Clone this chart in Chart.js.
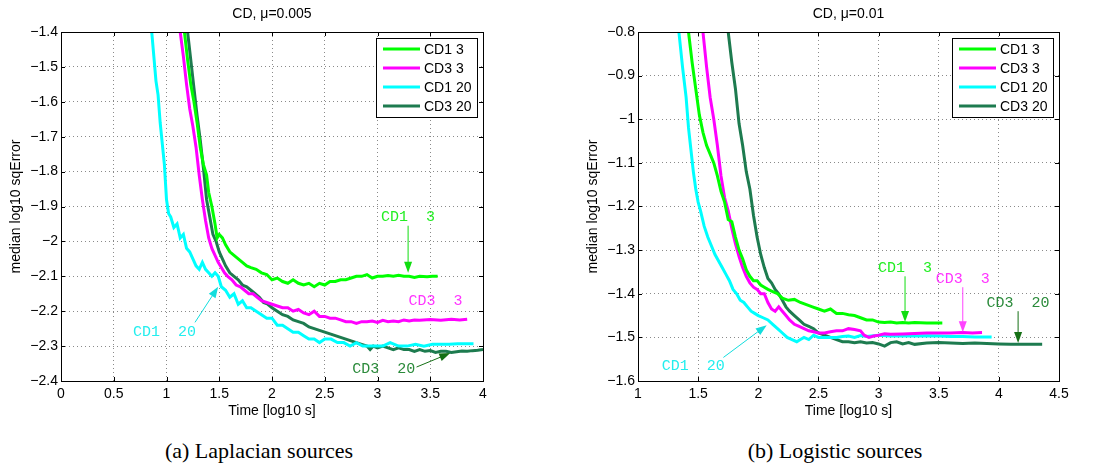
<!DOCTYPE html>
<html>
<head>
<meta charset="utf-8">
<script src="https://cdn.jsdelivr.net/npm/chart.js@4/dist/chart.umd.min.js"></script>
<style>
body{margin:0;background:#fff;}
#wrap{position:relative;width:1096px;height:468px;overflow:hidden;}
canvas{position:absolute;top:0;}
.cap{position:absolute;top:438px;font-family:"Liberation Serif","Times New Roman",serif;font-size:22px;color:#000;transform:translateX(-50%);white-space:nowrap;}
</style>
</head>
<body>
<div id="wrap">
  <canvas id="lap" width="548" height="420" style="left:0"></canvas>
  <canvas id="logi" width="548" height="420" style="left:548px"></canvas>
  <div class="cap" style="left:259px">(a) Laplacian sources</div>
  <div class="cap" style="left:835px">(b) Logistic sources</div>
</div>
<script>
// series names, legend order
const SERIES = ['CD1 3','CD3 3','CD1 20','CD3 20'];
const COLORS = ['#00ff00','#ff00ff','#00ffff','#1d7b4f'];

// (a) Laplacian sources, mu=0.005  [log10 s, median log10 sqError]
const lapCD1_3 = [[1.15,-1.30],[1.17,-1.40],[1.20,-1.48],[1.23,-1.55],[1.26,-1.60],[1.29,-1.66],[1.32,-1.73],[1.35,-1.78],[1.38,-1.81],[1.40,-1.86],[1.43,-1.90],[1.46,-1.95],[1.48,-1.99],[1.50,-1.98],[1.53,-1.99],[1.56,-2.01],[1.60,-2.03],[1.64,-2.04],[1.68,-2.05],[1.72,-2.06],[1.76,-2.07],[1.80,-2.075],[1.85,-2.08],[1.90,-2.09],[1.95,-2.095],[2.00,-2.11],[2.05,-2.105],[2.10,-2.115],[2.15,-2.12],[2.20,-2.11],[2.25,-2.12],[2.30,-2.125],[2.35,-2.12],[2.40,-2.13],[2.45,-2.12],[2.50,-2.125],[2.55,-2.115],[2.60,-2.115],[2.65,-2.11],[2.70,-2.11],[2.75,-2.105],[2.80,-2.10],[2.85,-2.10],[2.90,-2.095],[2.95,-2.105],[3.00,-2.10],[3.05,-2.10],[3.10,-2.098],[3.15,-2.10],[3.20,-2.097],[3.25,-2.10],[3.30,-2.10],[3.35,-2.103],[3.40,-2.10],[3.47,-2.101],[3.52,-2.10],[3.57,-2.10]];
const lapCD3_3 = [[1.10,-1.30],[1.13,-1.40],[1.16,-1.47],[1.19,-1.55],[1.22,-1.62],[1.25,-1.67],[1.28,-1.73],[1.31,-1.81],[1.34,-1.88],[1.37,-1.94],[1.40,-1.99],[1.43,-2.02],[1.46,-2.04],[1.49,-2.06],[1.52,-2.075],[1.55,-2.09],[1.58,-2.10],[1.62,-2.11],[1.66,-2.125],[1.70,-2.13],[1.74,-2.14],[1.78,-2.15],[1.82,-2.15],[1.86,-2.16],[1.90,-2.17],[1.95,-2.175],[2.00,-2.18],[2.05,-2.185],[2.10,-2.19],[2.15,-2.19],[2.20,-2.20],[2.25,-2.195],[2.30,-2.205],[2.35,-2.21],[2.40,-2.20],[2.45,-2.215],[2.50,-2.215],[2.55,-2.22],[2.60,-2.22],[2.65,-2.225],[2.70,-2.23],[2.75,-2.23],[2.80,-2.235],[2.85,-2.23],[2.90,-2.23],[2.95,-2.228],[3.00,-2.232],[3.05,-2.226],[3.10,-2.23],[3.15,-2.228],[3.20,-2.23],[3.25,-2.225],[3.30,-2.228],[3.35,-2.225],[3.40,-2.226],[3.50,-2.224],[3.60,-2.226],[3.70,-2.223],[3.78,-2.225],[3.85,-2.223]];
const lapCD1_20 = [[0.85,-1.30],[0.86,-1.40],[0.88,-1.47],[0.90,-1.54],[0.92,-1.58],[0.94,-1.66],[0.96,-1.72],[0.98,-1.78],[1.00,-1.88],[1.02,-1.92],[1.04,-1.93],[1.07,-1.96],[1.10,-1.95],[1.13,-1.99],[1.16,-1.98],[1.19,-2.02],[1.22,-2.03],[1.25,-2.05],[1.28,-2.07],[1.31,-2.08],[1.34,-2.06],[1.37,-2.08],[1.40,-2.09],[1.43,-2.10],[1.46,-2.09],[1.49,-2.10],[1.52,-2.13],[1.56,-2.14],[1.60,-2.16],[1.64,-2.15],[1.68,-2.18],[1.72,-2.17],[1.76,-2.19],[1.80,-2.19],[1.85,-2.20],[1.90,-2.21],[1.95,-2.22],[2.00,-2.22],[2.05,-2.24],[2.10,-2.24],[2.15,-2.25],[2.20,-2.26],[2.25,-2.26],[2.30,-2.27],[2.35,-2.28],[2.40,-2.28],[2.45,-2.29],[2.50,-2.28],[2.56,-2.28],[2.62,-2.29],[2.68,-2.29],[2.74,-2.30],[2.80,-2.29],[2.86,-2.30],[2.92,-2.30],[2.98,-2.30],[3.05,-2.30],[3.12,-2.29],[3.20,-2.30],[3.28,-2.30],[3.36,-2.295],[3.44,-2.30],[3.52,-2.295],[3.60,-2.295],[3.68,-2.295],[3.76,-2.293],[3.84,-2.293],[3.91,-2.293]];
const lapCD3_20 = [[1.18,-1.30],[1.20,-1.40],[1.23,-1.48],[1.26,-1.56],[1.29,-1.64],[1.32,-1.71],[1.35,-1.79],[1.38,-1.88],[1.41,-1.93],[1.44,-1.98],[1.47,-2.00],[1.50,-2.03],[1.53,-2.05],[1.56,-2.07],[1.60,-2.09],[1.64,-2.10],[1.68,-2.11],[1.72,-2.125],[1.76,-2.13],[1.80,-2.14],[1.84,-2.15],[1.88,-2.16],[1.92,-2.175],[1.96,-2.18],[2.00,-2.19],[2.05,-2.20],[2.10,-2.21],[2.15,-2.215],[2.20,-2.225],[2.25,-2.23],[2.30,-2.235],[2.35,-2.245],[2.40,-2.25],[2.45,-2.255],[2.50,-2.26],[2.55,-2.265],[2.60,-2.27],[2.65,-2.275],[2.70,-2.28],[2.75,-2.285],[2.80,-2.29],[2.85,-2.295],[2.90,-2.30],[2.93,-2.31],[2.96,-2.30],[3.00,-2.305],[3.05,-2.30],[3.10,-2.305],[3.15,-2.31],[3.20,-2.305],[3.25,-2.31],[3.30,-2.31],[3.35,-2.315],[3.40,-2.31],[3.45,-2.315],[3.50,-2.313],[3.55,-2.318],[3.60,-2.315],[3.65,-2.315],[3.70,-2.318],[3.75,-2.316],[3.80,-2.314],[3.85,-2.315],[3.90,-2.313],[3.95,-2.312],[4.00,-2.31]];

// (b) Logistic sources, mu=0.01
const logCD1_3 = [[1.40,-0.70],[1.42,-0.80],[1.45,-0.87],[1.48,-0.93],[1.51,-0.99],[1.54,-1.03],[1.57,-1.06],[1.60,-1.08],[1.63,-1.10],[1.66,-1.13],[1.69,-1.165],[1.72,-1.19],[1.75,-1.23],[1.78,-1.235],[1.81,-1.27],[1.84,-1.30],[1.87,-1.32],[1.90,-1.345],[1.93,-1.36],[1.96,-1.37],[1.99,-1.37],[2.02,-1.38],[2.05,-1.385],[2.08,-1.39],[2.12,-1.395],[2.16,-1.40],[2.20,-1.41],[2.25,-1.415],[2.30,-1.413],[2.35,-1.42],[2.40,-1.425],[2.45,-1.43],[2.50,-1.435],[2.55,-1.44],[2.60,-1.435],[2.65,-1.445],[2.70,-1.445],[2.75,-1.448],[2.80,-1.45],[2.85,-1.455],[2.90,-1.46],[2.95,-1.46],[3.00,-1.465],[3.05,-1.466],[3.10,-1.465],[3.15,-1.467],[3.20,-1.466],[3.25,-1.467],[3.30,-1.466],[3.40,-1.467],[3.53,-1.467]];
const logCD3_3 = [[1.52,-0.70],[1.54,-0.80],[1.57,-0.88],[1.60,-0.95],[1.63,-1.00],[1.66,-1.06],[1.69,-1.13],[1.72,-1.18],[1.75,-1.21],[1.78,-1.25],[1.81,-1.285],[1.84,-1.315],[1.87,-1.34],[1.90,-1.36],[1.93,-1.375],[1.96,-1.385],[1.99,-1.39],[2.02,-1.40],[2.05,-1.40],[2.08,-1.42],[2.11,-1.435],[2.14,-1.44],[2.17,-1.43],[2.20,-1.44],[2.23,-1.45],[2.26,-1.46],[2.30,-1.47],[2.34,-1.475],[2.38,-1.48],[2.42,-1.485],[2.46,-1.487],[2.50,-1.49],[2.55,-1.49],[2.60,-1.487],[2.65,-1.485],[2.70,-1.485],[2.75,-1.48],[2.80,-1.482],[2.85,-1.485],[2.88,-1.495],[2.92,-1.50],[2.96,-1.497],[3.00,-1.495],[3.05,-1.492],[3.10,-1.493],[3.20,-1.492],[3.30,-1.491],[3.40,-1.49],[3.50,-1.49],[3.60,-1.49],[3.70,-1.489],[3.78,-1.49],[3.86,-1.489]];
const logCD1_20 = [[1.32,-0.70],[1.34,-0.80],[1.37,-0.88],[1.40,-0.95],[1.42,-1.02],[1.44,-1.07],[1.46,-1.12],[1.48,-1.16],[1.50,-1.19],[1.52,-1.21],[1.55,-1.245],[1.58,-1.27],[1.61,-1.29],[1.64,-1.31],[1.67,-1.325],[1.70,-1.34],[1.73,-1.355],[1.76,-1.37],[1.79,-1.39],[1.82,-1.40],[1.85,-1.415],[1.88,-1.42],[1.91,-1.43],[1.94,-1.44],[1.97,-1.445],[2.00,-1.45],[2.04,-1.455],[2.08,-1.46],[2.12,-1.47],[2.16,-1.48],[2.20,-1.49],[2.24,-1.50],[2.28,-1.505],[2.32,-1.51],[2.35,-1.505],[2.38,-1.50],[2.42,-1.505],[2.46,-1.495],[2.50,-1.50],[2.55,-1.50],[2.60,-1.50],[2.65,-1.50],[2.70,-1.498],[2.75,-1.497],[2.80,-1.50],[2.85,-1.496],[2.90,-1.498],[3.00,-1.495],[3.10,-1.497],[3.20,-1.496],[3.30,-1.497],[3.40,-1.496],[3.50,-1.497],[3.60,-1.498],[3.70,-1.498],[3.80,-1.499],[3.94,-1.499]];
const logCD3_20 = [[1.73,-0.70],[1.75,-0.80],[1.78,-0.87],[1.81,-0.93],[1.84,-1.01],[1.87,-1.06],[1.90,-1.12],[1.93,-1.16],[1.96,-1.22],[1.99,-1.27],[2.02,-1.31],[2.05,-1.34],[2.08,-1.365],[2.11,-1.375],[2.14,-1.39],[2.17,-1.40],[2.20,-1.415],[2.23,-1.43],[2.26,-1.44],[2.30,-1.45],[2.34,-1.46],[2.38,-1.47],[2.42,-1.475],[2.46,-1.48],[2.50,-1.49],[2.55,-1.495],[2.60,-1.50],[2.65,-1.505],[2.70,-1.51],[2.75,-1.51],[2.80,-1.512],[2.85,-1.51],[2.90,-1.513],[2.95,-1.512],[3.00,-1.515],[3.05,-1.52],[3.10,-1.512],[3.15,-1.51],[3.20,-1.515],[3.25,-1.512],[3.30,-1.516],[3.40,-1.513],[3.50,-1.512],[3.60,-1.513],[3.70,-1.514],[3.80,-1.513],[3.90,-1.514],[4.00,-1.515],[4.10,-1.516],[4.20,-1.516],[4.36,-1.516]];

// arrow labels: text, series index, text pos, arrow from, arrow to (data coords)
const lapNotes = [
  {t:'CD1  3', c:0, tx:3.29, ty:-1.93, from:[3.29,-1.955], to:[3.29,-2.09]},
  {t:'CD3  3', c:1, tx:3.55, ty:-2.171},
  {t:'CD1  20', c:2, tx:0.98, ty:-2.259, from:[1.27,-2.232], to:[1.49,-2.13]},
  {t:'CD3  20', c:3, tx:3.06, ty:-2.365, from:[3.37,-2.36], to:[3.69,-2.32]},
];
const logNotes = [
  {t:'CD1  3', c:0, tx:3.22, ty:-1.342, from:[3.22,-1.36], to:[3.22,-1.465]},
  {t:'CD3  3', c:1, tx:3.70, ty:-1.367, from:[3.70,-1.385], to:[3.70,-1.488]},
  {t:'CD3  20', c:3, tx:4.16, ty:-1.422, from:[4.16,-1.44], to:[4.16,-1.513]},
  {t:'CD1  20', c:2, tx:1.46, ty:-1.566, from:[1.71,-1.546], to:[2.07,-1.472]},
];
const NOTE_COLORS = ['#22ee22','#ff33ff','#22eeee','#2a8a3a'];
const ARROW_COLORS = ['#11dd11','#ff44ff','#11dddd','#157015'];

const SANS = '"Liberation Sans", Arial, sans-serif';
const fmt = v => { const r = Math.round(v*10)/10; return String(r).replace('-', '\u2212'); };

function arrow(ctx, x1, y1, x2, y2, col){
  const a = Math.atan2(y2-y1, x2-x1), L = 11, W = 4;
  ctx.strokeStyle = col; ctx.fillStyle = col; ctx.lineWidth = 1;
  ctx.beginPath(); ctx.moveTo(x1,y1); ctx.lineTo(x2 - L*0.6*Math.cos(a), y2 - L*0.6*Math.sin(a)); ctx.stroke();
  ctx.beginPath();
  ctx.moveTo(x2,y2);
  ctx.lineTo(x2 - L*Math.cos(a) + W*Math.sin(a), y2 - L*Math.sin(a) - W*Math.cos(a));
  ctx.lineTo(x2 - L*Math.cos(a) - W*Math.sin(a), y2 - L*Math.sin(a) + W*Math.cos(a));
  ctx.closePath(); ctx.fill();
}

const decor = {
  id:'decor',
  afterDraw(chart, args, o){
    const {ctx, chartArea:a, scales:{x, y}} = chart;
    ctx.save();
    // inward ticks
    ctx.strokeStyle = '#000'; ctx.lineWidth = 1;
    x.ticks.forEach(t => {
      const px = Math.round(x.getPixelForValue(t.value)) + 0.5;
      ctx.beginPath(); ctx.moveTo(px, a.bottom); ctx.lineTo(px, a.bottom-4);
      ctx.moveTo(px, a.top); ctx.lineTo(px, a.top+4); ctx.stroke();
    });
    y.ticks.forEach(t => {
      const py = Math.round(y.getPixelForValue(t.value)) + 0.5;
      ctx.beginPath(); ctx.moveTo(a.left, py); ctx.lineTo(a.left+4, py);
      ctx.moveTo(a.right, py); ctx.lineTo(a.right-4, py); ctx.stroke();
    });
    // frame
    ctx.strokeRect(Math.round(a.left)+0.5, Math.round(a.top)+0.5, Math.round(a.right-a.left), Math.round(a.bottom-a.top));
    // arrow notes
    ctx.font = '15px "Liberation Mono", "Courier New", monospace';
    ctx.textAlign = 'center'; ctx.textBaseline = 'middle';
    o.notes.forEach(n => {
      ctx.fillStyle = NOTE_COLORS[n.c];
      ctx.fillText(n.t, x.getPixelForValue(n.tx), y.getPixelForValue(n.ty));
      if (n.from) arrow(ctx, x.getPixelForValue(n.from[0]), y.getPixelForValue(n.from[1]),
                        x.getPixelForValue(n.to[0]), y.getPixelForValue(n.to[1]), ARROW_COLORS[n.c]);
    });
    // legend box
    const bx = a.right - 107, by = a.top + 6, bw = 101, bh = 79;
    ctx.fillStyle = '#fff'; ctx.fillRect(bx, by, bw, bh);
    ctx.strokeStyle = '#000'; ctx.lineWidth = 1;
    ctx.strokeRect(Math.round(bx)+0.5, Math.round(by)+0.5, bw, bh);
    ctx.font = '14px ' + SANS; ctx.textAlign = 'left';
    SERIES.forEach((s, i) => {
      const ly = by + 11 + i*19;
      ctx.strokeStyle = COLORS[i]; ctx.lineWidth = 3;
      ctx.beginPath(); ctx.moveTo(bx+7, ly); ctx.lineTo(bx+44, ly); ctx.stroke();
      ctx.fillStyle = '#000'; ctx.fillText(s, bx+48, ly+1);
    });
    // titles
    ctx.fillStyle = '#000'; ctx.font = '14px ' + SANS; ctx.textAlign = 'center';
    const cx = (a.left + a.right)/2;
    ctx.fillText(o.title, cx, 14);
    ctx.fillText('Time [log10 s]', cx, 411);
    ctx.translate(o.ylx, (a.top + a.bottom)/2); ctx.rotate(-Math.PI/2);
    ctx.fillText('median log10 sqError', 0, 0);
    ctx.restore();
  }
};

function makeChart(id, sets, xr, yr, yw, padR, title, notes, ylx){
  return new Chart(document.getElementById(id), {
    type:'line',
    data:{datasets: sets.map((d, i) => ({
      label: SERIES[i], data: d.map(p => ({x:p[0], y:p[1]})),
      borderColor: COLORS[i], borderWidth: 3, pointRadius: 0, tension: 0, fill: false
    }))},
    options:{
      responsive:false, animation:false, events:[],
      layout:{padding:{left:0, right:padR, top:32, bottom:0}},
      plugins:{legend:{display:false}, tooltip:{enabled:false}, decor:{title, notes, ylx}},
      scales:{
        x:{type:'linear', min:xr[0], max:xr[1],
           ticks:{stepSize:0.5, padding:5, color:'#000', font:{size:14, family:SANS}, maxRotation:0, callback:fmt},
           grid:{color:'#8a8a8a', drawTicks:false}, border:{display:false, dash:[1,3]},
           afterFit(s){ s.height = 39; }},
        y:{type:'linear', min:yr[0], max:yr[1],
           ticks:{stepSize:0.1, padding:3, color:'#000', font:{size:14, family:SANS}, callback:fmt},
           grid:{color:'#8a8a8a', drawTicks:false}, border:{display:false, dash:[1,3]},
           afterFit(s){ s.width = yw; }}
      }
    },
    plugins:[decor]
  });
}

makeChart('lap', [lapCD1_3, lapCD3_3, lapCD1_20, lapCD3_20], [0,4], [-2.4,-1.4], 61, 65, 'CD, \u03bc=0.005', lapNotes, 16);
makeChart('logi', [logCD1_3, logCD3_3, logCD1_20, logCD3_20], [1,4.5], [-1.6,-0.8], 90, 37, 'CD, \u03bc=0.01', logNotes, 45);
</script>
</body>
</html>
